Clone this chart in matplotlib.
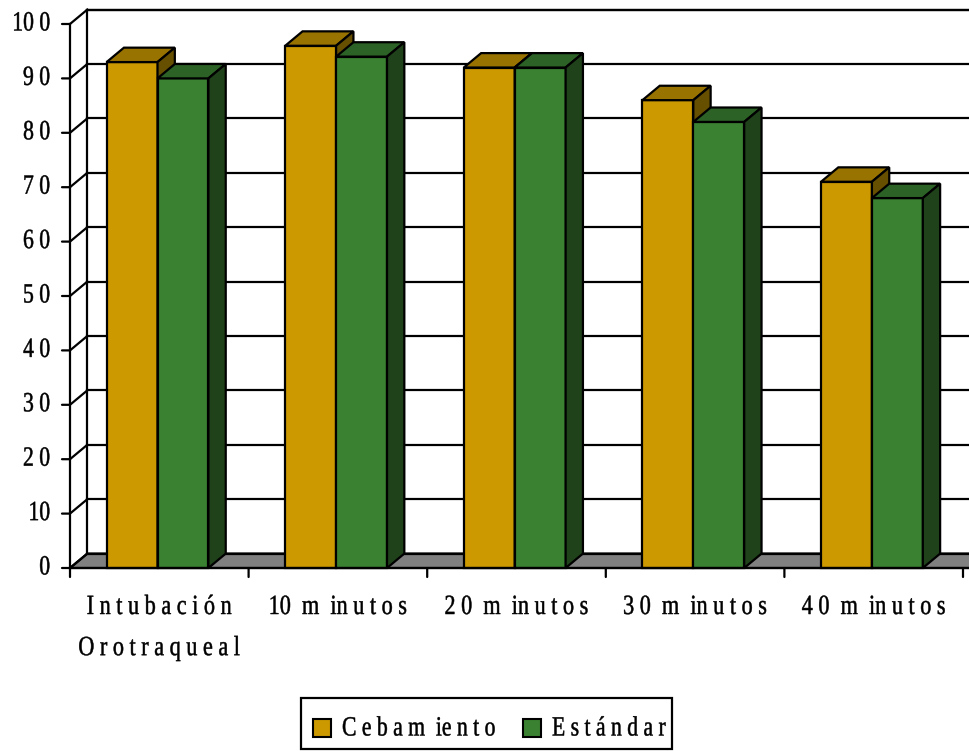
import matplotlib
matplotlib.use("Agg")
import matplotlib.pyplot as plt
from matplotlib.patches import Polygon, Rectangle
from matplotlib.patheffects import AbstractPathEffect
from matplotlib.transforms import Affine2D

# data
categories = ["I n t u b a c i ó n\nO r o t r a q u e a l", "10  m  in u t o s",
              "2 0  m  in u t o s", "3 0  m  in u t o s", "4 0  m  in u t o s"]
cebamiento = [93, 96, 92, 86, 71]
estandar = [90, 94, 92, 82, 68]
ytick_vals = [0, 10, 20, 30, 40, 50, 60, 70, 80, 90, 100]
ytick_labels = ["0", "10", "2 0", "3 0", "4 0", "5 0", "6 0", "7 0", "8 0", "9 0", "10 0"]
series_names = ["C e b a m  ie n t o", "E s t á n d a r"]

# colours: front, top, side
gold = ("#CC9900", "#997300", "#665000")
green = ("#3A8232", "#2C6226", "#20421B")

W, H = 970, 751
FONT = "Liberation Serif"
FS = 20
SX = 0.78   # the original font is a narrow Times


class Squeeze(AbstractPathEffect):
    """squash text horizontally around a fixed x (display pixels), a bit heavier"""
    def __init__(self, cx, sx=SX, weight=0.35):
        super().__init__()
        self.cx, self.sx, self.weight = cx, sx, weight

    def draw_path(self, renderer, gc, tpath, affine, rgbFace=None):
        t = affine + Affine2D().translate(-self.cx, 0).scale(self.sx, 1).translate(self.cx, 0)
        gc0 = renderer.new_gc()
        gc0.copy_properties(gc)
        gc0.set_linewidth(self.weight)
        gc0.set_foreground(rgbFace)
        renderer.draw_path(gc0, tpath, t, rgbFace)
        gc0.restore()


fig = plt.figure(figsize=(W / 100, H / 100), dpi=100)
fig.patch.set_facecolor("white")
# front axis: x=0 -> px 70, x=5 -> px 963 ; y=0 -> px 568, y=100 -> px 24
ax = fig.add_axes([70 / W, (H - 568) / H, (963 - 70) / W, (568 - 24) / H])
ax.set_xlim(0, 5)
ax.set_ylim(0, 100)
ax.axis("off")

dx, dy = 0.097, 2.65   # depth offset in data units
xr = 5.3               # right end (goes past the figure edge)
ink = dict(color="black", lw=1.6, clip_on=False)

# back wall and floor
ax.add_patch(Rectangle((dx, dy), xr, 100, facecolor="white", edgecolor="black",
                       lw=1.6, clip_on=False, zorder=0))
ax.add_patch(Polygon([(0, 0), (xr, 0), (xr + dx, dy), (dx, dy)], closed=True,
                     facecolor="#808080", edgecolor="black", lw=1.6, clip_on=False, zorder=1))
for v in ytick_vals:
    ax.plot([dx, xr], [v + dy, v + dy], zorder=1, **ink)
    ax.plot([0, dx], [v, v + dy], zorder=1, **ink)

# axis lines and ticks
ax.plot([0, 0], [0, 100], zorder=5, **ink)
ax.plot([0, 5.04], [0, 0], zorder=5, **ink)
tick = dict(arrowstyle="-", lw=1.6, color="black", shrinkA=0, shrinkB=0)
for v, lab in zip(ytick_vals, ytick_labels):
    ax.annotate("", xy=(0, v), xytext=(-8, 0), textcoords="offset pixels", arrowprops=tick)
    cx = ax.transData.transform((0, v))[0] - 20
    ax.annotate(lab, xy=(0, v), xytext=(-20, 0), textcoords="offset pixels",
                ha="right", va="center", fontsize=FS, family=FONT,
                annotation_clip=False, path_effects=[Squeeze(cx)])
for i in range(len(categories) + 1):
    ax.annotate("", xy=(i, 0), xytext=(0, -9), textcoords="offset pixels", arrowprops=tick)
for i, lab in enumerate(categories):
    cx = ax.transData.transform((i + 0.5, 0))[0]
    ax.annotate(lab, xy=(i + 0.5, 0), xytext=(0, -27), textcoords="offset pixels",
                ha="center", va="top", fontsize=FS, family=FONT,
                linespacing=1.85, annotation_clip=False, path_effects=[Squeeze(cx, sx=0.8)])

# bars with 3D faces
bw = 0.285
offsets = [0.205, 0.49]
for i in range(len(categories)):
    for vals, cols, off in zip([cebamiento, estandar], [gold, green], offsets):
        x0 = i + off
        v = vals[i]
        ax.bar(x0, v, bw, align="edge", color=cols[0], edgecolor="black",
               lw=1.6, zorder=3, clip_on=False)
        ax.add_patch(Polygon([(x0, v), (x0 + bw, v), (x0 + bw + dx, v + dy), (x0 + dx, v + dy)],
                             closed=True, facecolor=cols[1], edgecolor="black", lw=1.6,
                             zorder=3, clip_on=False))
        ax.add_patch(Polygon([(x0 + bw, 0), (x0 + bw + dx, dy), (x0 + bw + dx, v + dy), (x0 + bw, v)],
                             closed=True, facecolor=cols[2], edgecolor="black", lw=1.6,
                             zorder=3, clip_on=False))

# legend, laid out by hand (pixel positions)
fig.patches.append(Rectangle((301 / W, 1 - 749 / H), 371 / W, 51 / H, transform=fig.transFigure,
                             facecolor="white", edgecolor="black", lw=1.6))
for sq_x, txt_x, cols, name in zip([313, 523], [342, 552], [gold, green], series_names):
    fig.patches.append(Rectangle((sq_x / W, 1 - 737 / H), 18 / W, 18 / H, transform=fig.transFigure,
                                 facecolor=cols[0], edgecolor="black", lw=1.5))
    fig.text(txt_x / W, 1 - 729 / H, name, ha="left", va="center", fontsize=FS, family=FONT,
             path_effects=[Squeeze(txt_x)])

fig.savefig("out.png", dpi=100)
